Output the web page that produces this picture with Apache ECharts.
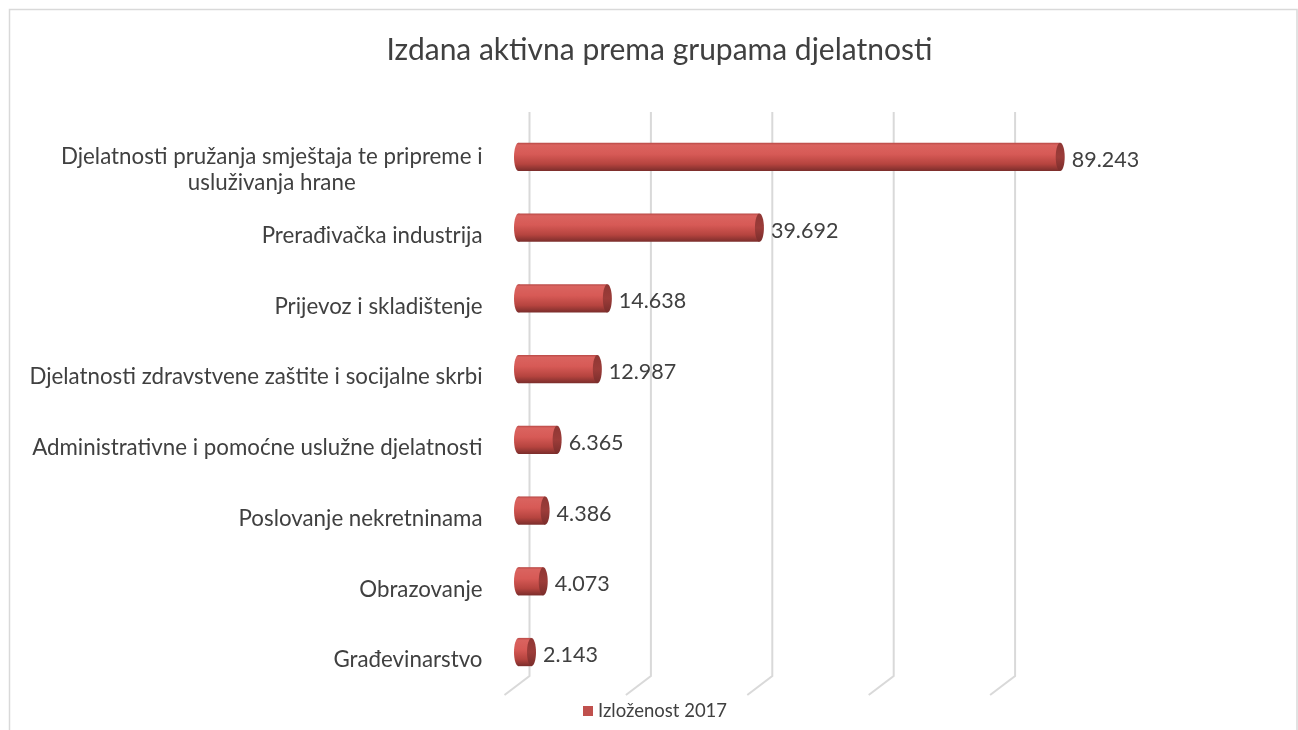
<!DOCTYPE html>
<html><head><meta charset="utf-8">
<script src="https://cdn.jsdelivr.net/npm/echarts@6/dist/echarts.min.js"></script>
<style>html,body{margin:0;padding:0;background:#fff}#c{width:1298px;height:730px}</style>
</head><body><div id="c"></div>
<script>
const titleText = 'Izdana aktivna prema grupama djelatnosti';
const seriesName = 'Izloženost 2017';
const categories = [
  'Djelatnosti pružanja smještaja te pripreme i\nusluživanja hrane',
  'Prerađivačka industrija',
  'Prijevoz i skladištenje',
  'Djelatnosti zdravstvene zaštite i socijalne skrbi',
  'Administrativne i pomoćne uslužne djelatnosti',
  'Poslovanje nekretninama',
  'Obrazovanje',
  'Građevinarstvo'
];
const values = [89243, 39692, 14638, 12987, 6365, 4386, 4073, 2143];
const gridTicks = [0, 20000, 40000, 60000, 80000];

const FONT = 'Lato, "Open Sans", sans-serif';
const TEXT = '#404040';
const CAT_SIZE = 22.3;

function fmt(v) {
  return String(v).replace(/\B(?=(\d{3})+(?!\d))/g, '.');
}

function renderGrid(params, api) {
  const x = api.coord([api.value(0), 0])[0];
  const cs = params.coordSys;
  const top = cs.y - 9.6;
  const yb = cs.y + cs.height - 11.4;
  return {
    type: 'polyline',
    silent: true,
    shape: { points: [[x + 11, top], [x + 11, yb], [x - 14, yb + 19]] },
    style: { stroke: '#d9d9d9', lineWidth: 2, fill: null }
  };
}

function renderBar(params, api) {
  const v = api.value(0);
  const cat = api.value(1);
  const s = api.coord([0, cat]);
  const e = api.coord([v, cat]);
  const h = api.size([0, 1])[1] * 0.4;
  const cy = s[1];
  const rx = 4.5;
  const body = new echarts.graphic.LinearGradient(0, 0, 0, 1, [
    { offset: 0, color: '#b84946' },
    { offset: 0.08, color: '#da635f' },
    { offset: 0.4, color: '#d75a56' },
    { offset: 0.75, color: '#b6443f' },
    { offset: 1, color: '#7a2d2b' }
  ]);
  const cap = new echarts.graphic.LinearGradient(0, 0, 0, 1, [
    { offset: 0, color: '#8f3734' },
    { offset: 0.5, color: '#9c3c39' },
    { offset: 1, color: '#7a2d2b' }
  ]);
  return {
    type: 'group',
    children: [
      { type: 'ellipse', shape: { cx: s[0], cy: cy, rx: rx, ry: h / 2 }, style: { fill: body } },
      { type: 'rect', shape: { x: s[0], y: cy - h / 2, width: e[0] - s[0], height: h }, style: { fill: body } },
      { type: 'ellipse', shape: { cx: e[0], cy: cy, rx: rx, ry: h / 2 }, style: { fill: cap } },
      { type: 'text', style: { x: e[0] + rx + 7, y: cy + 3, text: fmt(v), fill: TEXT, fontSize: 21.5, fontFamily: FONT, align: 'left', verticalAlign: 'middle' } }
    ]
  };
}

const chart = echarts.init(document.getElementById('c'), null, { renderer: 'canvas' });
chart.setOption({
  animation: false,
  backgroundColor: '#ffffff',
  graphic: [{
    type: 'rect', silent: true, z: -10,
    shape: { x: 9.5, y: 9.5, width: 1287.5, height: 740 },
    style: { fill: null, stroke: '#d9d9d9', lineWidth: 1.5 }
  }],
  title: {
    text: titleText,
    left: 654.5,
    top: 28,
    textAlign: 'center',
    textStyle: { fontSize: 30, fontWeight: 'normal', color: TEXT, fontFamily: FONT, lineHeight: 34 }
  },
  legend: {
    data: [seriesName],
    left: 583,
    top: 701,
    padding: 0,
    icon: 'rect',
    itemWidth: 10,
    itemHeight: 10,
    itemGap: 5,
    textStyle: { fontSize: 18.5, color: TEXT, fontFamily: FONT, lineHeight: 20 }
  },
  grid: { left: 518.5, right: 172.5, top: 121.6, bottom: 42.6, containLabel: false },
  xAxis: {
    type: 'value', min: 0, max: 100000, interval: 20000,
    axisLabel: { show: false }, axisLine: { show: false }, axisTick: { show: false }, splitLine: { show: false }
  },
  yAxis: {
    type: 'category', data: categories, inverse: true,
    axisLine: { show: false }, axisTick: { show: false }, splitLine: { show: false },
    axisLabel: {
      margin: 36,
      color: TEXT,
      fontSize: CAT_SIZE,
      fontFamily: FONT,
      lineHeight: 26,
      padding: [16, 0, 0, 0],
      formatter: function (val) {
        if (val.indexOf('\n') < 0) return val;
        return '{e| }\n' + val.split('\n').map(function (l) { return '{c|' + l + '}'; }).join('\n');
      },
      rich: {
        e: { fontSize: 8, lineHeight: 10 },
        c: { align: 'center', fontSize: CAT_SIZE, fontFamily: FONT, color: TEXT, lineHeight: 26 }
      }
    }
  },
  series: [
    {
      type: 'custom', name: '_grid', silent: true, z: 1,
      renderItem: renderGrid,
      encode: { x: 0, y: 1 },
      data: gridTicks.map(function (t) { return [t, 0]; })
    },
    {
      type: 'custom', name: seriesName, z: 2,
      itemStyle: { color: '#c0504d' },
      renderItem: renderBar,
      encode: { x: 0, y: 1 },
      data: values.map(function (v, i) { return [v, i]; })
    }
  ]
});
</script>
</body></html>
